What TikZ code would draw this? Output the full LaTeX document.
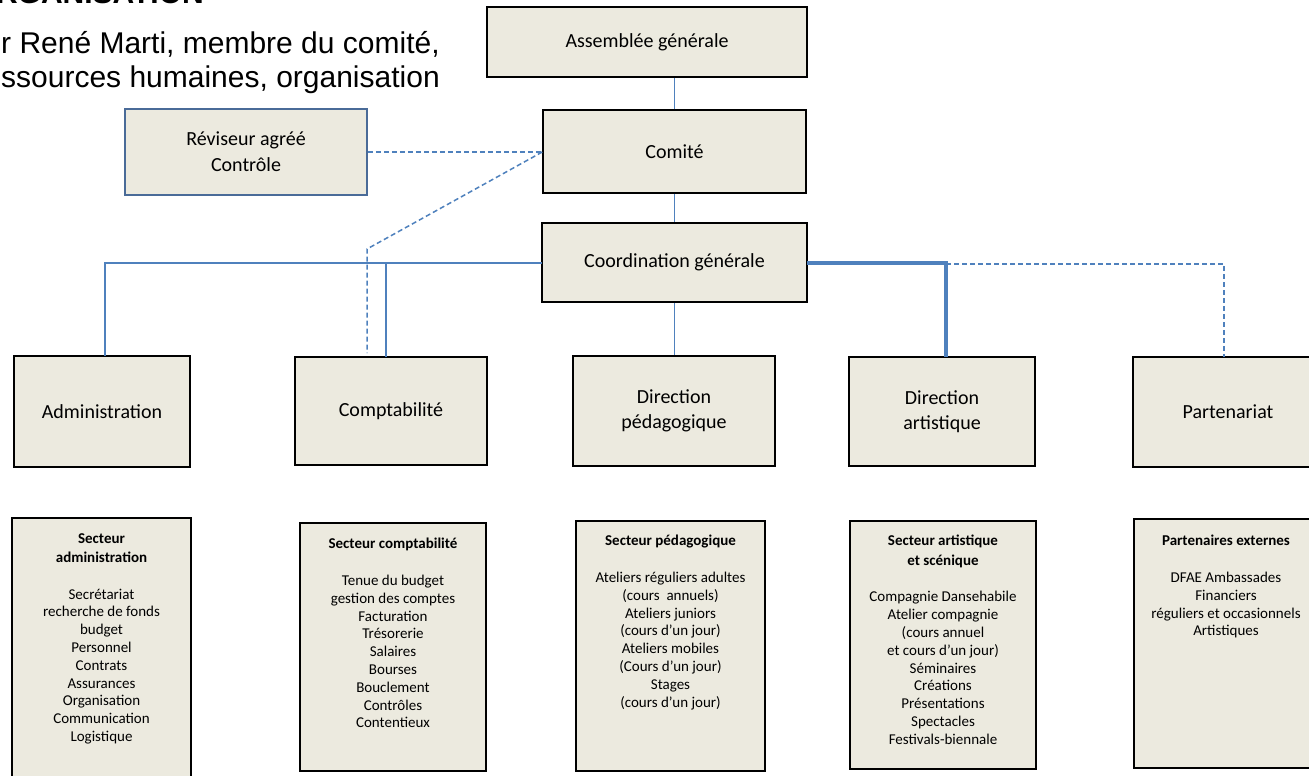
\documentclass[tikz,border=0pt]{standalone}
\usepackage{fontspec}
\setmainfont{Carlito}
\newfontfamily\arialfont{Liberation Sans}
\definecolor{boxfill}{HTML}{ECEADF}
\definecolor{linkblue}{HTML}{4F81BD}
\definecolor{revborder}{HTML}{4A6B98}
\tikzset{
  unit/.style={draw=black, line width=1.5pt, fill=boxfill, inner sep=0pt, align=center,
    font=\fontsize{20}{24.5}\selectfont},
  sector/.style={draw=black, line width=1.5pt, fill=boxfill, inner sep=0pt},
  sectortext/.style={anchor=north, inner sep=0pt, align=center, font=\fontsize{15}{17.8}\selectfont},
  link/.style={draw=linkblue, line width=1.5pt},
  dashlink/.style={link, dash pattern=on 5pt off 3pt},
}
\begin{document}
\begin{tikzpicture}[x=1pt,y=-1pt]
    \useasboundingbox (0,0) rectangle (1309,776);
    \clip (0,0) rectangle (1309,776);

    % heading, cut by the page edge
    \node[anchor=base east, inner sep=0pt, font=\arialfont\bfseries\fontsize{30}{36}\selectfont] (title) at (204,4) {ORGANISATION};
    \node[anchor=base west, inner sep=0pt, font=\arialfont\fontsize{30}{34}\selectfont] (author) at (1,54) {r René Marti, membre du comité,};
    \node[anchor=base west, inner sep=0pt, font=\arialfont\fontsize{30}{34}\selectfont] (role) at (1,88) {ssources humaines, organisation};

    % upper levels
    \node[unit, minimum width=320pt, minimum height=70pt] (ag) at (647,42) {Assemblée générale};
    \node[unit, minimum width=263pt, minimum height=83pt] (comite) at (674.5,151.5) {Comité};
    \node[unit, minimum width=265pt, minimum height=79pt] (coord) at (674.5,262.5) {Coordination générale};
    \node[unit, draw=revborder, minimum width=242pt, minimum height=86pt, font=\fontsize{20}{26}\selectfont] (rev) at (246,152) {Réviseur agréé\\Contrôle};

    % directions
    \node[unit, minimum width=176pt, minimum height=111pt] (admin) at (102,411.5) {Administration};
    \node[unit, minimum width=192pt, minimum height=108pt] (compta) at (391,411) {Comptabilité};
    \node[unit, minimum width=202pt, minimum height=110pt] (dirped) at (674,411) {Direction\\pédagogique};
    \node[unit, minimum width=186pt, minimum height=109pt] (dirart) at (942,411.5) {Direction\\artistique};
    \node[unit, minimum width=190pt, minimum height=110pt] (partn) at (1228,412) {Partenariat};

    % sectors
    \node[sector, minimum width=179pt, minimum height=272pt] (sadm) at (101.5,654) {};
    \node[sector, minimum width=186pt, minimum height=248pt] (scpt) at (393,647) {};
    \node[sector, minimum width=189pt, minimum height=250pt] (sped) at (670.5,646) {};
    \node[sector, minimum width=186pt, minimum height=248pt] (sart) at (943,645) {};
    \node[sector, minimum width=186pt, minimum height=249pt] (spart) at (1227,643.5) {};

    \node[sectortext] (sadm-txt) at (101.5,533) {\textbf{Secteur}\\[1.5pt]\textbf{administration}\\[19pt]
      Secrétariat\\recherche de fonds\\budget\\Personnel\\Contrats\\Assurances\\Organisation\\Communication\\Logistique};
    \node[sectortext] (scpt-txt) at (393,538) {\textbf{Secteur comptabilité}\\[19pt]
      Tenue du budget\\gestion des comptes\\Facturation\\Trésorerie\\Salaires\\Bourses\\Bouclement\\Contrôles\\Contentieux};
    \node[sectortext] (sped-txt) at (670.5,535) {\textbf{Secteur pédagogique}\\[19pt]
      Ateliers réguliers adultes\\(cours~ annuels)\\Ateliers juniors\\(cours d'un jour)\\Ateliers mobiles\\(Cours d'un jour)\\Stages\\(cours d'un jour)};
    \node[sectortext] (sart-txt) at (943,535) {\textbf{Secteur artistique}\\[1.5pt]\textbf{et scénique}\\[19pt]
      Compagnie Dansehabile\\Atelier compagnie\\(cours annuel\\et cours d'un jour)\\Séminaires\\Créations\\Présentations\\Spectacles\\Festivals-biennale};
    \node[sectortext] (spart-txt) at (1226,535) {\textbf{Partenaires externes}\\[19pt]
      DFAE Ambassades\\Financiers\\réguliers et occasionnels\\Artistiques};

    % links
    \coordinate (cg-w) at (542,263);
    \coordinate (cg-e) at (807,263);
    \coordinate (adm-top) at (105,356);
    \coordinate (cpt-top) at (386,357);
    \coordinate (cpt-dash) at (367,353);
    \coordinate (rev-knee) at (367,249);
    \coordinate (art-top) at (946,357);
    \coordinate (prt-top) at (1224,357);

    \draw[link] (comite.north) -- (comite.north |- ag.south);
    \draw[link] (comite.south) -- (coord.north);
    \draw[link] (coord.south) -- (coord.south |- dirped.north);
    \draw[link] (cg-w) -| (adm-top);
    \draw[link] (cpt-top) -- (cpt-top |- cg-w);
    \draw[dashlink] ([yshift=-1pt]art-top |- cg-e) -| (prt-top);
    \draw[link, line width=4pt] (cg-e) -| (art-top);
    \draw[dashlink] (rev.east) -- (rev.east -| comite.west);
    \draw[dashlink] (rev.east -| comite.west) -- (rev-knee) -- (cpt-dash);
\end{tikzpicture}
\end{document}
